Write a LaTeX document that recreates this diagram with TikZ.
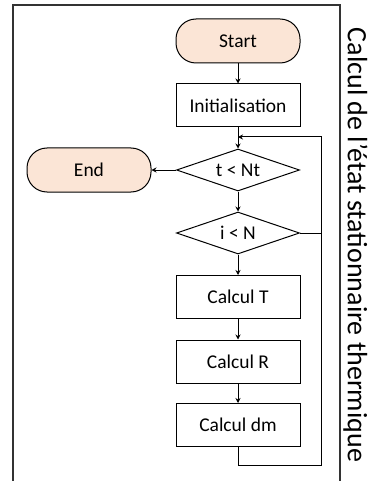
\documentclass[tikz,border=0pt]{standalone}
\usepackage{fontspec}
\setmainfont{Carlito}
\usetikzlibrary{arrows.meta,shapes.geometric}
\definecolor{peach}{HTML}{FBE5D6}
\tikzset{
  term/.style={draw=black,fill=peach,rounded corners=20pt,minimum width=124pt,minimum height=44pt,line width=1pt,font=\fontsize{19.5}{22}\selectfont}, % start / end
  proc/.style={draw=black,fill=white,minimum width=124pt,minimum height=43pt,line width=1pt,font=\fontsize{19.5}{22}\selectfont}, % computation box
  test/.style={diamond,draw=black,fill=white,aspect=3,minimum width=123pt,minimum height=42pt,inner sep=0pt,line width=1pt,font=\fontsize{19.5}{22}\selectfont},
  flow/.style={-{Stealth[length=5pt,width=5pt]},line width=1pt},
  loopline/.style={line width=1pt},
  frame/.style={line width=1.3pt,black!80},
}

\begin{document}
\begin{tikzpicture}[x=1pt,y=-1pt]
  \useasboundingbox (0,0) rectangle (369,481);
  \draw[frame] (13,481) -- (13,5) -- (340,5) -- (340,481);
  \node[rotate=-90,inner sep=0pt,font=\fontsize{28}{30}\selectfont] (title) at (355.5,245) {Calcul de l'état stationnaire thermique};

  \node[term] (start) at (238,41) {Start};
  \node[proc] (init) at (238,105.5) {Initialisation};
  \node[test] (tnt) at (238,170) {t < Nt};
  \node[term] (fin) at (89,170) {End};
  \node[test] (iln) at (238,233) {i < N};
  \node[proc] (calT) at (238,297) {Calcul T};
  \node[proc] (calR) at (238,361.5) {Calcul R};
  \node[proc] (calD) at (238,425) {Calcul dm};
  \coordinate (loopR) at (321,465);
  \coordinate (merge) at (238,137);

  \draw[flow] (start) -- (init);
  \draw[flow] (init) -- (tnt);
  \draw[flow] (tnt) -- (fin);
  \draw[flow] (tnt) -- (iln);
  \draw[flow] (iln) -- (calT);
  \draw[flow] (calT) -- (calR);
  \draw[flow] (calR) -- (calD);
  \draw[loopline] (iln.east) -- (iln.east -| loopR);
  \draw[flow] (calD.south) |- (loopR) |- (merge);
\end{tikzpicture}
\end{document}
